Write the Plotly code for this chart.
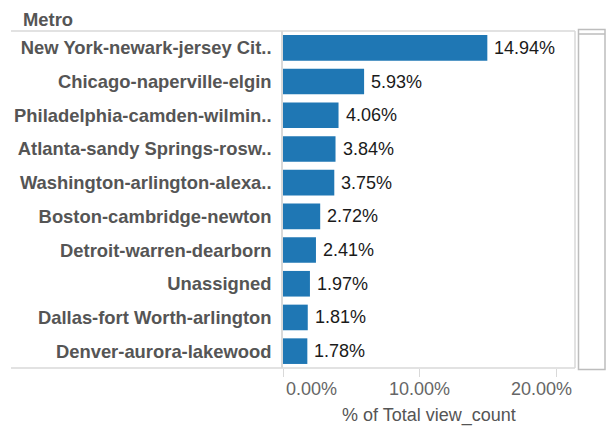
import plotly.graph_objects as go

metros = [
    "New York-newark-jersey Cit..",
    "Chicago-naperville-elgin",
    "Philadelphia-camden-wilmin..",
    "Atlanta-sandy Springs-rosw..",
    "Washington-arlington-alexa..",
    "Boston-cambridge-newton",
    "Detroit-warren-dearborn",
    "Unassigned",
    "Dallas-fort Worth-arlington",
    "Denver-aurora-lakewood",
]
pct_view_count = [14.94, 5.93, 4.06, 3.84, 3.75, 2.72, 2.41, 1.97, 1.81, 1.78]
x_ticks = [0, 10, 20]
x_tick_labels = ["0.00%", "10.00%", "20.00%"]

W, H = 606, 429
L, R, T, B = 283, 31, 31, 61
PW, PH = W - L - R, H - T - B
FONT = "Liberation Sans, Arial, sans-serif"


def px_x(p):
    return (p - L) / PW


def px_y(p):
    return 1 - (p - T) / PH


fig = go.Figure()
fig.add_trace(go.Bar(
    x=pct_view_count, y=metros, orientation="h",
    marker=dict(color="#1f77b4", line=dict(width=0)),
    hoverinfo="skip",
))

annotations = []
for v, m in zip(pct_view_count, metros):
    annotations.append(dict(
        x=v, y=m, xref="x", yref="y", text=f"{v:.2f}%", showarrow=False,
        xanchor="left", yanchor="middle", xshift=5,
        font=dict(family=FONT, size=18, color="#1a1a1a"),
    ))
anchors = ["left", "center", "center"]
shifts = [1, 0, -15]
for t, lab, a, s in zip(x_ticks, x_tick_labels, anchors, shifts):
    annotations.append(dict(
        x=t, y=px_y(389), xref="x", yref="paper", text=lab, showarrow=False,
        xanchor=a, yanchor="middle", xshift=s,
        font=dict(family=FONT, size=18, color="#666666"),
    ))
annotations.append(dict(
    x=0.5, y=px_y(415), xref="paper", yref="paper", text="% of Total view_count",
    showarrow=False, xanchor="center", yanchor="middle",
    font=dict(family=FONT, size=18, color="#555555"),
))
annotations.append(dict(
    x=px_x(21), y=px_y(19), xref="paper", yref="paper", text="<b>Metro</b>",
    showarrow=False, xanchor="left", yanchor="middle",
    font=dict(family=FONT, size=18.4, color="#555555"),
))

line_col = "#d9d9d9"
shapes = [
    dict(type="line", xref="paper", yref="paper", x0=px_x(11), x1=1, y0=1, y1=1,
         line=dict(color=line_col, width=1.5)),
    dict(type="line", xref="paper", yref="paper", x0=px_x(11), x1=1, y0=0, y1=0,
         line=dict(color=line_col, width=1.5)),
    dict(type="line", xref="paper", yref="paper", x0=1, x1=1, y0=0, y1=1,
         line=dict(color=line_col, width=1.5)),
    # scrollbar
    dict(type="rect", xref="paper", yref="paper", x0=px_x(578.5), x1=px_x(605),
         y0=px_y(369.5), y1=px_y(29.5), line=dict(color="#bdbdbd", width=1.5),
         fillcolor="white"),
    dict(type="line", xref="paper", yref="paper", x0=px_x(578.5), x1=px_x(605),
         y0=px_y(34), y1=px_y(34), line=dict(color="#bdbdbd", width=1.5)),
]

fig.update_layout(
    width=W, height=H,
    margin=dict(l=L, r=R, t=T, b=B, pad=0),
    paper_bgcolor="white", plot_bgcolor="white",
    showlegend=False, bargap=0.24,
    annotations=annotations, shapes=shapes,
    xaxis=dict(
        range=[0, 21.35], tickvals=x_ticks, showticklabels=False,
        ticks="outside", ticklen=8, tickcolor=line_col, tickwidth=1,
        showgrid=False, zeroline=False, showline=False, fixedrange=True,
    ),
    yaxis=dict(
        autorange="reversed", showgrid=False, zeroline=False,
        showline=True, linecolor=line_col, linewidth=1.5,
        ticks="", ticklabelstandoff=6,
        tickfont=dict(family=FONT, size=18.4, color="#555555", weight="bold"),
        fixedrange=True,
    ),
)

fig.write_html(
    "out.html",
    config={"displayModeBar": False},
    post_script="document.body.style.margin='0';document.body.style.overflow='hidden';",
)
